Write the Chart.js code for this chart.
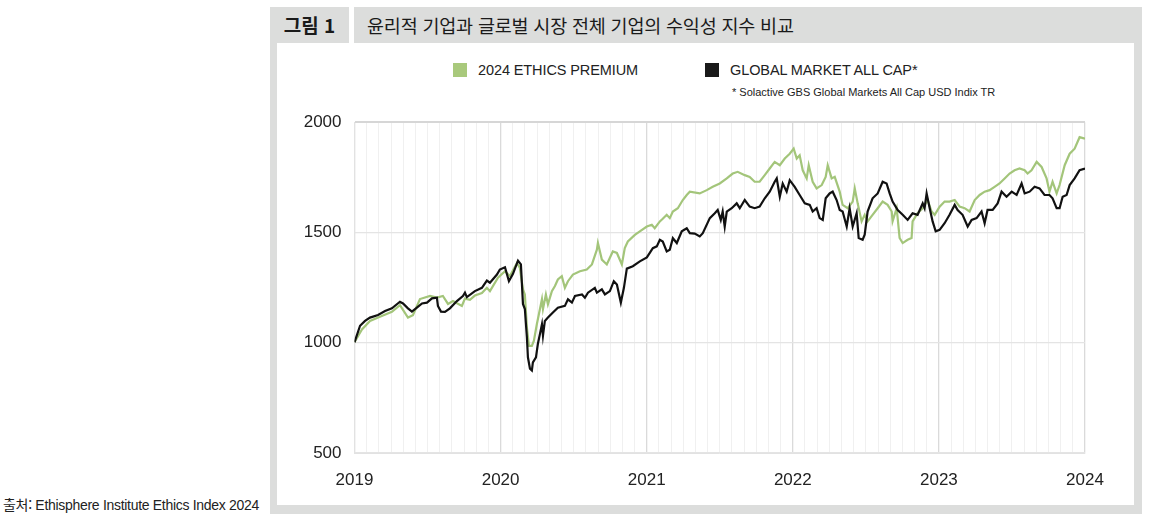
<!DOCTYPE html>
<html lang="ko">
<head>
<meta charset="utf-8">
<script src="https://cdn.jsdelivr.net/npm/chart.js@4.4.0/dist/chart.umd.min.js"></script>
<style>
  html, body { margin: 0; padding: 0; background: #fff; }
  body { width: 1150px; height: 523px; position: relative; overflow: hidden; font-family: "Liberation Sans", Arial, sans-serif; color: #222; }
  .frame { position: absolute; left: 270px; top: 7px; width: 872px; height: 507px; background: #dcdddc; }
  .gap { position: absolute; left: 349px; top: 7px; width: 5px; height: 36px; background: #fff; }
  .label { position: absolute; left: 270px; top: 7px; width: 79px; height: 36px; line-height: 36px; text-align: center; font-family: "Noto Sans CJK KR", sans-serif; font-weight: 700; font-size: 19px; color: #1a1a1a; }
  .title { position: absolute; left: 367px; top: 7px; height: 36px; line-height: 36px; font-family: "Noto Sans CJK KR", sans-serif; font-size: 18.5px; color: #1a1a1a; letter-spacing: -0.2px; }
  .panel { position: absolute; left: 277px; top: 43px; width: 857px; height: 462px; background: #fff; }
  .legend { position: absolute; top: 61px; font-size: 14.5px; letter-spacing: -0.1px; color: #222; line-height: 18px; }
  .legend span.box { display: inline-block; width: 14px; height: 14px; vertical-align: -2px; margin-right: 11px; }
  .note { position: absolute; left: 732px; top: 86px; font-size: 11px; letter-spacing: 0px; color: #222; }
  .source { position: absolute; left: 3px; top: 494px; font-size: 14px; letter-spacing: -0.3px; color: #222; }
  .source .ko { font-family: "Noto Sans CJK KR", sans-serif; }
  #chart-wrap { position: absolute; left: 280px; top: 99px; width: 854px; height: 401px; }
</style>
</head>
<body>
<div class="frame"></div>
<div class="gap"></div>
<div class="label">그림 1</div>
<div class="title">윤리적 기업과 글로벌 시장 전체 기업의 수익성 지수 비교</div>
<div class="panel"></div>
<div class="legend" style="left:453px"><span class="box" style="background:#a9c97c"></span>2024 ETHICS PREMIUM</div>
<div class="legend" style="left:705px"><span class="box" style="background:#1a1a1a"></span>GLOBAL MARKET ALL CAP*</div>
<div class="note">* Solactive GBS Global Markets All Cap USD Indix TR</div>
<div class="source"><span class="ko">출처:</span> Ethisphere Institute Ethics Index 2024</div>
<div id="chart-wrap"><canvas id="index-chart"></canvas></div>

<script>
// ================== Dados ==================

const yearTicks = [2019, 2020, 2021, 2022, 2023, 2024];
const valueTicks = [500, 1000, 1500, 2000];

// 2024 ETHICS PREMIUM — data em ano decimal
const ethicsDates = [
  2019.000, 2019.051, 2019.106, 2019.174, 2019.256, 2019.311, 2019.366, 2019.400, 2019.448, 2019.517,
  2019.564, 2019.605, 2019.640, 2019.674, 2019.735, 2019.756, 2019.790, 2019.824, 2019.872, 2019.906,
  2019.927, 2019.982, 2020.030, 2020.064, 2020.112, 2020.132, 2020.153, 2020.166, 2020.180, 2020.194,
  2020.214, 2020.228, 2020.248, 2020.262, 2020.283, 2020.290, 2020.310, 2020.324, 2020.351, 2020.372,
  2020.392, 2020.419, 2020.440, 2020.461, 2020.495, 2020.543, 2020.590, 2020.625, 2020.659, 2020.666,
  2020.693, 2020.727, 2020.768, 2020.796, 2020.830, 2020.850, 2020.871, 2020.919, 2020.953, 2021.001,
  2021.035, 2021.055, 2021.090, 2021.110, 2021.137, 2021.158, 2021.179, 2021.213, 2021.247, 2021.274,
  2021.295, 2021.363, 2021.411, 2021.452, 2021.500, 2021.548, 2021.589, 2021.623, 2021.671, 2021.705,
  2021.739, 2021.773, 2021.808, 2021.842, 2021.876, 2021.911, 2021.945, 2021.979, 2022.006, 2022.027,
  2022.047, 2022.068, 2022.095, 2022.109, 2022.136, 2022.163, 2022.198, 2022.225, 2022.239, 2022.266,
  2022.287, 2022.321, 2022.341, 2022.376, 2022.410, 2022.424, 2022.444, 2022.471, 2022.492, 2022.512,
  2022.546, 2022.581, 2022.615, 2022.649, 2022.677, 2022.683, 2022.711, 2022.731, 2022.752, 2022.786,
  2022.813, 2022.820, 2022.854, 2022.889, 2022.923, 2022.950, 2022.971, 2023.005, 2023.039, 2023.073,
  2023.108, 2023.142, 2023.176, 2023.210, 2023.245, 2023.279, 2023.313, 2023.347, 2023.381, 2023.415,
  2023.450, 2023.484, 2023.518, 2023.552, 2023.587, 2023.607, 2023.634, 2023.669, 2023.703, 2023.737,
  2023.757, 2023.778, 2023.806, 2023.826, 2023.861, 2023.895, 2023.929, 2023.963, 2024.000
];
const ethicsValues = [
  1002, 1060, 1099, 1118, 1140, 1170, 1114, 1125, 1198, 1212,
  1205, 1212, 1176, 1189, 1167, 1200, 1195, 1214, 1225, 1249,
  1234, 1295, 1324, 1302, 1362, 1339, 1242, 1219, 1069, 986,
  986, 1009, 1084, 1129, 1197, 1153, 1219, 1174, 1234, 1257,
  1287, 1302, 1249, 1279, 1309, 1324, 1332, 1355, 1422, 1452,
  1377, 1355, 1414, 1407, 1355, 1429, 1459, 1489, 1505, 1527,
  1535, 1519, 1550, 1562, 1580, 1565, 1595, 1610, 1647, 1670,
  1685, 1677, 1692, 1707, 1722, 1745, 1767, 1775, 1760, 1752,
  1730, 1730, 1760, 1790, 1820, 1805, 1835, 1857, 1880, 1835,
  1850, 1782, 1745, 1805, 1730, 1700, 1715, 1752, 1805, 1745,
  1752, 1685, 1625, 1610, 1640, 1700, 1632, 1550, 1580, 1550,
  1580, 1610, 1640, 1625, 1595, 1550, 1610, 1475, 1452, 1467,
  1475, 1550, 1587, 1610, 1647, 1595, 1580, 1617, 1640, 1640,
  1647, 1617, 1610, 1595, 1647, 1670, 1685, 1692, 1707, 1722,
  1745, 1767, 1782, 1790, 1782, 1767, 1782, 1820, 1797, 1745,
  1685, 1730, 1677, 1715, 1805, 1857, 1880, 1932, 1925
];

// GLOBAL MARKET ALL CAP*
const marketDates = [
  2019.000, 2019.038, 2019.072, 2019.106, 2019.161, 2019.209, 2019.256, 2019.311, 2019.332, 2019.366,
  2019.393, 2019.427, 2019.462, 2019.496, 2019.530, 2019.564, 2019.571, 2019.592, 2019.619, 2019.653,
  2019.701, 2019.742, 2019.756, 2019.769, 2019.824, 2019.872, 2019.906, 2019.927, 2019.975, 2019.995,
  2020.030, 2020.057, 2020.084, 2020.119, 2020.139, 2020.153, 2020.166, 2020.180, 2020.187, 2020.201,
  2020.214, 2020.221, 2020.242, 2020.255, 2020.269, 2020.283, 2020.290, 2020.303, 2020.324, 2020.358,
  2020.392, 2020.440, 2020.461, 2020.488, 2020.509, 2020.557, 2020.577, 2020.598, 2020.645, 2020.659,
  2020.693, 2020.714, 2020.748, 2020.775, 2020.796, 2020.823, 2020.844, 2020.864, 2020.905, 2020.953,
  2021.001, 2021.042, 2021.069, 2021.090, 2021.110, 2021.137, 2021.158, 2021.179, 2021.206, 2021.240,
  2021.274, 2021.295, 2021.329, 2021.363, 2021.384, 2021.432, 2021.466, 2021.486, 2021.507, 2021.520,
  2021.534, 2021.548, 2021.582, 2021.616, 2021.637, 2021.671, 2021.705, 2021.739, 2021.773, 2021.808,
  2021.842, 2021.876, 2021.890, 2021.911, 2021.931, 2021.958, 2021.979, 2022.013, 2022.047, 2022.082,
  2022.116, 2022.136, 2022.163, 2022.184, 2022.205, 2022.225, 2022.252, 2022.273, 2022.300, 2022.321,
  2022.341, 2022.369, 2022.389, 2022.410, 2022.437, 2022.451, 2022.478, 2022.492, 2022.512, 2022.546,
  2022.581, 2022.615, 2022.642, 2022.663, 2022.683, 2022.718, 2022.752, 2022.786, 2022.820, 2022.854,
  2022.889, 2022.902, 2022.916, 2022.937, 2022.957, 2022.978, 2023.005, 2023.039, 2023.073, 2023.108,
  2023.128, 2023.162, 2023.197, 2023.224, 2023.258, 2023.292, 2023.313, 2023.333, 2023.368, 2023.402,
  2023.429, 2023.463, 2023.498, 2023.532, 2023.566, 2023.587, 2023.621, 2023.655, 2023.689, 2023.723,
  2023.757, 2023.778, 2023.806, 2023.826, 2023.847, 2023.874, 2023.895, 2023.929, 2023.963, 2024.000
];
const marketValues = [
  1002, 1077, 1099, 1114, 1126, 1144, 1156, 1186, 1178, 1156,
  1141, 1159, 1178, 1182, 1201, 1204, 1167, 1141, 1140, 1156,
  1189, 1212, 1227, 1207, 1234, 1249, 1282, 1272, 1309, 1332,
  1342, 1279, 1311, 1372, 1355, 1176, 1153, 1024, 934, 882,
  874, 911, 934, 994, 1039, 1084, 1032, 1099, 1114, 1137,
  1159, 1167, 1197, 1182, 1212, 1219, 1204, 1227, 1249, 1227,
  1242, 1219, 1234, 1279, 1264, 1182, 1249, 1336, 1347, 1369,
  1387, 1429, 1437, 1467, 1459, 1414, 1422, 1474, 1452, 1505,
  1519, 1497, 1495, 1482, 1497, 1565, 1587, 1602, 1557, 1595,
  1527, 1595, 1610, 1632, 1610, 1647, 1617, 1610, 1617, 1655,
  1685, 1730, 1745, 1662, 1722, 1685, 1737, 1707, 1670, 1632,
  1625, 1595, 1610, 1565, 1557, 1655, 1677, 1685, 1647, 1602,
  1595, 1527, 1610, 1527, 1587, 1475, 1467, 1490, 1595, 1655,
  1677, 1730, 1722, 1677, 1640, 1602, 1580, 1557, 1587, 1580,
  1632, 1610, 1677, 1610, 1550, 1505, 1512, 1542, 1580, 1625,
  1602, 1580, 1527, 1557, 1565, 1595, 1542, 1602, 1602, 1632,
  1685, 1662, 1685, 1670, 1722, 1677, 1685, 1707, 1700, 1670,
  1670, 1655, 1610, 1610, 1662, 1670, 1715, 1745, 1782, 1790
];

// ================== Gráfico ==================

const toPoints = (xs, ys) => xs.map((x, i) => ({ x: x, y: ys[i] }));

const isYear = (v) => Math.abs(v - Math.round(v)) < 0.001;

const ctx = document.getElementById("index-chart").getContext("2d");

new Chart(ctx, {
  type: "line",
  data: {
    datasets: [
      {
        label: "GLOBAL MARKET ALL CAP*",
        data: toPoints(marketDates, marketValues),
        borderColor: "#111111",
        borderWidth: 2.2,
        pointRadius: 0,
        tension: 0,
      },
      {
        label: "2024 ETHICS PREMIUM",
        data: toPoints(ethicsDates, ethicsValues),
        borderColor: "#a3c57a",
        borderWidth: 2.2,
        pointRadius: 0,
        tension: 0,
      },
    ],
  },
  options: {
    responsive: true,
    maintainAspectRatio: false,
    animation: false,
    layout: { padding: { top: 21, right: 49, bottom: 0, left: 0 } },
    plugins: {
      legend: { display: false },
      tooltip: { enabled: false },
    },
    scales: {
      x: {
        type: "linear",
        min: yearTicks[0],
        max: yearTicks[yearTicks.length - 1],
        afterBuildTicks: (axis) => {
          // grade mensal, rótulo só nos anos
          const ticks = [];
          const months = (yearTicks.length - 1) * 12;
          for (let i = 0; i <= months; i++) ticks.push({ value: yearTicks[0] + i / 12 });
          axis.ticks = ticks;
        },
        afterFit: (axis) => { axis.height = 47; },
        grid: {
          drawTicks: false,
          color: (c) => (c.tick && isYear(c.tick.value) ? "#dadada" : "#f0f0f0"),
          lineWidth: (c) => (c.tick && isYear(c.tick.value) ? 1.3 : 1),
        },
        border: { color: "#e2e2e2" },
        ticks: {
          autoSkip: false,
          maxRotation: 0,
          padding: 17,
          color: "#222",
          font: { family: "Liberation Sans, Arial, sans-serif", size: 17 },
          callback: (v) => (isYear(v) ? String(Math.round(v)) : ""),
        },
      },
      y: {
        min: valueTicks[0],
        max: valueTicks[valueTicks.length - 1],
        afterFit: (axis) => { axis.width = 74.5; },
        afterBuildTicks: (axis) => { axis.ticks = valueTicks.map((v) => ({ value: v })); },
        grid: {
          drawTicks: false,
          color: (c) => (c.tick && c.tick.value === 2000 ? "#d6d6d6" : "#e4e4e4"),
          lineWidth: (c) => (c.tick && c.tick.value === 2000 ? 2 : 1.3),
        },
        border: { color: "#e2e2e2" },
        ticks: {
          padding: 13,
          color: "#222",
          font: { family: "Liberation Sans, Arial, sans-serif", size: 17 },
          callback: (v) => String(v),
        },
      },
    },
  },
});
</script>
</body>
</html>
